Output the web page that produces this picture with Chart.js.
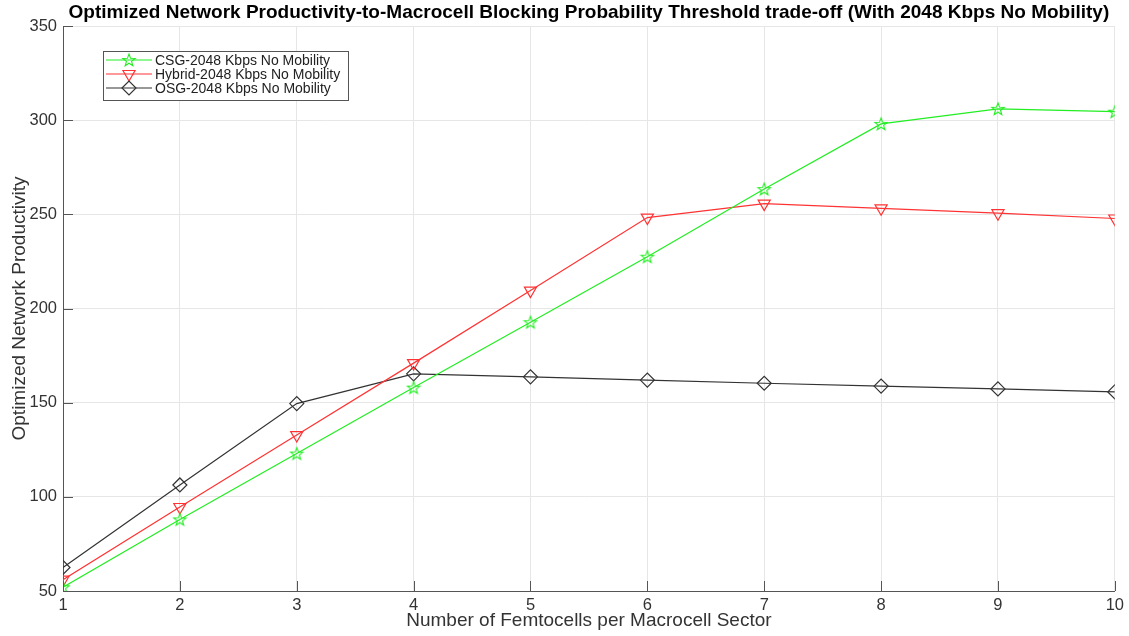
<!DOCTYPE html>
<html>
<head>
<meta charset="utf-8">
<script src="https://cdn.jsdelivr.net/npm/chart.js@4"></script>
<style>
  html, body { margin: 0; padding: 0; background: #fff; }
  #wrap { width: 1129px; height: 636px; }
</style>
</head>
<body>
<div id="wrap"><canvas id="line-chart" width="1129" height="636"></canvas></div>
<script>
var femtocells = [1, 2, 3, 4, 5, 6, 7, 8, 9, 10];
var csgValues = [52, 88, 123, 158, 192.7, 227.5, 263.4, 298, 306, 304.5];
var hybridValues = [56, 94.6, 132.8, 171, 209.5, 248.3, 255.7, 253.2, 250.6, 247.8];
var osgValues = [62.5, 106.3, 149.5, 165.3, 163.7, 162, 160.3, 158.8, 157.3, 155.7];
var yTicks = [50, 100, 150, 200, 250, 300, 350];

var seriesNames = ['CSG-2048 Kbps No Mobility', 'Hybrid-2048 Kbps No Mobility', 'OSG-2048 Kbps No Mobility'];
var titleText = 'Optimized Network Productivity-to-Macrocell Blocking Probability Threshold trade-off (With 2048 Kbps No Mobility)';

var green = '#22ee22', red = '#ff3333', dark = '#333333';
var font = '"Liberation Sans", Arial, Helvetica, sans-serif';

// five-pointed outline star, like MATLAB's 'p' marker
function starImage(color) {
    var c = document.createElement('canvas');
    c.width = 16; c.height = 16;
    var g = c.getContext('2d');
    g.strokeStyle = color;
    g.lineWidth = 1.1;
    g.beginPath();
    for (var i = 0; i < 10; i++) {
        var r = i % 2 === 0 ? 6.5 : 2.7;
        var ang = -Math.PI / 2 + i * Math.PI / 5;
        var px = 8 + r * Math.cos(ang), py = 8.5 + r * Math.sin(ang);
        if (i === 0) g.moveTo(px, py); else g.lineTo(px, py);
    }
    g.closePath();
    g.stroke();
    return c;
}

function makeSet(label, values, color, style, rot, radius) {
    return {
        label: label,
        data: values.map(function (v, i) { return { x: femtocells[i], y: v }; }),
        borderColor: color,
        backgroundColor: 'rgba(0,0,0,0)',
        borderWidth: 1.2,
        pointStyle: style,
        pointRotation: rot,
        pointRadius: radius,
        pointBorderColor: color,
        pointBackgroundColor: 'rgba(0,0,0,0)',
        pointBorderWidth: 1.2,
        tension: 0,
        fill: false
    };
}

// MATLAB-like extras: title, inward ticks, legend box inside the axes
var extras = {
    id: 'extras',
    afterDraw: function (chart) {
        var ctx = chart.ctx, a = chart.chartArea;
        var xs = chart.scales.x, ys = chart.scales.y;
        ctx.save();
        ctx.fillStyle = '#000';
        ctx.font = 'bold 19px ' + font;
        ctx.textAlign = 'center';
        ctx.textBaseline = 'middle';
        ctx.fillText(titleText, (a.left + a.right) / 2, 13);

        ctx.strokeStyle = '#555';
        ctx.lineWidth = 1;
        ctx.beginPath();
        femtocells.forEach(function (v) {
            var px = Math.round(xs.getPixelForValue(v)) + 0.5;
            ctx.moveTo(px, a.bottom); ctx.lineTo(px, a.bottom - 10);
        });
        yTicks.forEach(function (v) {
            var py = Math.round(ys.getPixelForValue(v)) + 0.5;
            ctx.moveTo(a.left, py); ctx.lineTo(a.left + 10, py);
        });
        ctx.stroke();

        // legend
        var bx = 103.5, by = 51.5, bw = 245, bh = 49;
        ctx.fillStyle = '#fff';
        ctx.fillRect(bx, by, bw, bh);
        ctx.strokeStyle = '#555';
        ctx.strokeRect(bx, by, bw, bh);
        ctx.font = '14px ' + font;
        ctx.textAlign = 'left';
        chart.data.datasets.forEach(function (ds, i) {
            var ry = 60 + i * 14;
            ctx.strokeStyle = ds.borderColor;
            ctx.lineWidth = 1.2;
            ctx.beginPath();
            ctx.moveTo(106, ry); ctx.lineTo(152, ry);
            ctx.stroke();
            ctx.fillStyle = 'rgba(0,0,0,0)';
            Chart.helpers.drawPoint(ctx, {
                pointStyle: ds.pointStyle, rotation: ds.pointRotation,
                radius: ds.pointRadius, borderWidth: 1.2
            }, 129, ry);
            ctx.fillStyle = '#222';
            ctx.fillText(ds.label, 155, ry + 1);
        });
        ctx.restore();
    }
};

var ctx = document.getElementById('line-chart');
var chart = new Chart(ctx, {
    type: 'line',
    data: {
        datasets: [
            makeSet(seriesNames[0], csgValues, green, starImage(green), 0, 6),
            makeSet(seriesNames[1], hybridValues, red, 'triangle', 180, 7),
            makeSet(seriesNames[2], osgValues, dark, 'rectRot', 0, 7)
        ]
    },
    plugins: [extras],
    options: {
        responsive: false,
        animation: false,
        layout: { padding: { top: 26, right: 13, left: 0, bottom: 0 } },
        plugins: { legend: { display: false }, title: { display: false }, tooltip: { enabled: false } },
        scales: {
            x: {
                type: 'linear', min: 1, max: 10,
                afterFit: function (s) { s.height = 45; },
                afterBuildTicks: function (s) { s.ticks = femtocells.map(function (v) { return { value: v }; }); },
                grid: { color: '#e6e6e6', drawTicks: false },
                border: { color: '#555', width: 1 },
                ticks: { color: '#333', font: { size: 16.5, family: font }, padding: 5, maxRotation: 0 },
                title: { display: true, text: 'Number of Femtocells per Macrocell Sector', color: '#333', font: { size: 19, family: font }, padding: { top: 0 } }
            },
            y: {
                min: 50, max: 350,
                afterFit: function (s) { s.width = 63; },
                afterBuildTicks: function (s) { s.ticks = yTicks.map(function (v) { return { value: v }; }); },
                grid: { color: '#e6e6e6', drawTicks: false },
                border: { color: '#555', width: 1 },
                ticks: { color: '#333', font: { size: 16.5, family: font }, padding: 6 },
                title: { display: true, text: 'Optimized Network Productivity', color: '#333', font: { size: 19, family: font }, padding: { top: 8, bottom: 2 } }
            }
        }
    }
});
</script>
</body>
</html>
